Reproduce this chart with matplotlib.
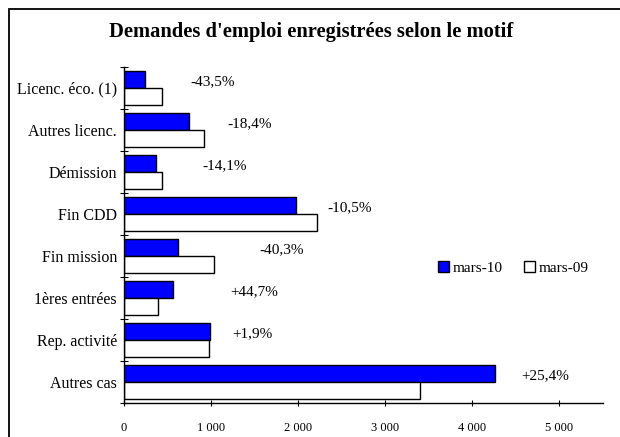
import matplotlib
matplotlib.use("Agg")
import matplotlib.pyplot as plt
import matplotlib.patches as mpatches
from matplotlib.ticker import FuncFormatter
import numpy as np

plt.rcParams['font.family'] = ['Liberation Serif', 'DejaVu Serif']

# data
categories = ['Licenc. éco. (1)', 'Autres licenc.', 'Démission', 'Fin CDD',
              'Fin mission', '1ères entrées', 'Rep. activité', 'Autres cas']
mars10 = [245, 750, 372, 1980, 616, 560, 990, 4255]
mars09 = [434, 919, 433, 2212, 1032, 387, 972, 3394]
changes = ['-43,5%', '-18,4%', '-14,1%', '-10,5%', '-40,3%', '+44,7%', '+1,9%', '+25,4%']

# where the variation labels sit (x in data units)
label_x = [1020, 1445, 1160, 2590, 1810, 1490, 1470, 4840]

fig = plt.figure(figsize=(6.2, 4.37), dpi=100)
ax = fig.add_axes([0.2, 0.078, 0.7726, 0.769])

y = np.arange(len(categories))
h = 0.4
ax.barh(y - h / 2, mars10, height=h, color='#0000ff', edgecolor='black', linewidth=1.0, label='mars-10')
ax.barh(y + h / 2, mars09, height=h, color='white', edgecolor='black', linewidth=1.0, label='mars-09')

for i in range(len(categories)):
    ax.text(label_x[i], y[i] - 0.15, changes[i], ha='center', va='center', fontsize=11)

ax.set_ylim(len(categories) - 0.5, -0.5)
ax.set_xlim(0, 5500)
ax.set_yticks(np.arange(len(categories) + 1) - 0.5)
ax.set_yticklabels([])
ax.set_yticks(y, minor=True)
ax.set_yticklabels(categories, minor=True, fontsize=11.5)
ax.tick_params(axis='y', which='minor', length=0, pad=5)
ax.tick_params(axis='y', which='major', direction='inout', length=6, width=0.8)
ax.set_xticks(np.arange(0, 5001, 1000))
ax.xaxis.set_major_formatter(FuncFormatter(lambda v, p: ('%d' % v) if v < 1000 else '%d %03d' % (v // 1000, v % 1000)))
ax.tick_params(axis='x', direction='inout', length=5, width=0.8, labelsize=9, pad=11)

for s in ['top', 'right']:
    ax.spines[s].set_visible(False)
ax.spines['left'].set_linewidth(1.0)
ax.spines['bottom'].set_linewidth(1.0)

leg = ax.legend(loc='center', bbox_to_anchor=(0.812, 0.402), ncol=2, frameon=False,
                fontsize=11, handlelength=0.75, handleheight=0.75, handletextpad=0.2,
                columnspacing=1.4, borderaxespad=0)

fig.text(0.502, 0.927, "Demandes d'emploi enregistrées selon le motif", ha='center', va='center',
         fontsize=14.8, fontweight='bold')

# outer frame of the chart
frame = mpatches.Rectangle((9 / 620, -0.1), 1.2, 1 - 9 / 437 + 0.1, transform=fig.transFigure,
                           fill=False, edgecolor='black', linewidth=1.3)
fig.patches.append(frame)

fig.savefig('out.png', dpi=100)
plt.close()
